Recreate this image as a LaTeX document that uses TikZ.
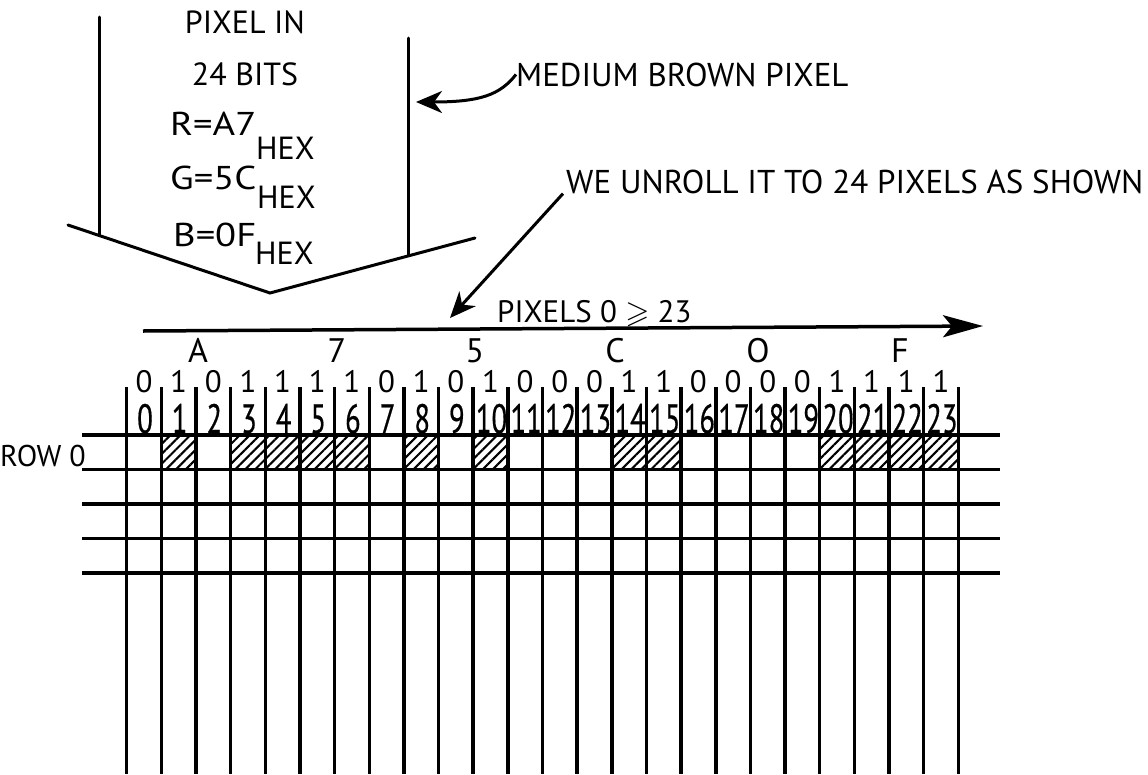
\documentclass[tikz,border=0pt]{standalone}
\usepackage{fontspec}
\usepackage{amssymb}
\usepackage{graphicx}
\setmainfont{PT Sans}
\newfontfamily\numfont{PT Sans}[FakeBold=0.6]
\usetikzlibrary{arrows.meta,patterns.meta}
\newcommand{\widen}[1]{\scalebox{1.17}[1]{#1}}
\begin{document}
\begin{tikzpicture}[x=1pt,y=-1pt,
  txt/.style={inner sep=0pt, font=\fontsize{#1}{#1}\selectfont},
  txt/.default=30,
  numtxt/.style={inner sep=0pt, font=\fontsize{41}{41}\numfont},
  outline/.style={line width=3pt, line cap=round},
  gridline/.style={line width=3.5pt},
  pointer/.style={line width=3pt, -{Stealth[length=26pt,width=22pt,inset=8pt]}},
  bigarrow/.style={line width=3.5pt, -{Stealth[length=40pt,width=22pt,inset=9pt]}},
  hatch/.style={pattern={Lines[angle=45,distance=7pt,line width=2.1pt]}},
]
\useasboundingbox (0,0) rectangle (1148,774);

% ---- upper part: the pixel ----
\coordinate (lt) at (99,17);   \coordinate (lb) at (99,235);
\coordinate (rt) at (408,38);  \coordinate (rb) at (408,255);
\coordinate (vl) at (68,225);  \coordinate (vm) at (270,293); \coordinate (vr) at (475,238);
\draw[outline] (lt) -- (lb);
\draw[outline] (rt) -- (rb);
\draw[outline] (vl) -- (vm) -- (vr);

\node[txt=32, anchor=base] (pin) at (245,33) {PIXEL IN};
\node[txt=32, anchor=base] (bits) at (245,85) {24 BITS};
\node[txt=33, anchor=base west] (rr) at (170,135) {\widen{R=A7}};
\node[txt=32, anchor=base west] (rhex) at (256,159) {HEX};
\node[txt=33, anchor=base west] (gg) at (170,189) {\widen{G=5C}};
\node[txt=32, anchor=base west] (ghex) at (257,208) {HEX};
\node[txt=33, anchor=base west] (bb) at (173,246) {\widen{B=0F}};
\node[txt=32, anchor=base west] (bhex) at (255,264) {HEX};

\node[txt=33, anchor=base west] (mbp) at (516,86) {MEDIUM BROWN PIXEL};
\coordinate (mbptip) at (416,102);
\draw[pointer] (mbp.west) .. controls (500,95) and (480,102) .. (mbptip);

\node[txt=33, anchor=base west] (we) at (566,193) {WE UNROLL IT TO 24 PIXELS AS SHOWN};
\coordinate (wetip) at (450,318);
\draw[pointer] ([xshift=-3pt]we.south west) -- (wetip);

% ---- pixels arrow ----
\node[txt=31, anchor=base west] (pix) at (497,322) {PIXELS 0 $\geqslant$ 23};
\coordinate (ps) at (143,331); \coordinate (pe) at (983,326);
\draw[bigarrow] (ps) -- (pe);

% ---- hex digits ----
\foreach \c/\x [count=\k] in {A/198,7/337,5/475,C/615,O/758,F/900}
  \node[txt=34, anchor=base] (hex\k) at (\x,362) {\c};

% ---- hatched cells in row 0 ----
\foreach \i in {1,3,4,5,6,8,10,14,15,20,21,22,23}
  \fill[hatch] ({126.7+34.65*\i},435) rectangle ++(34.65,34.5);

% ---- grid ----
\foreach \y [count=\r] in {435,469.5,504,538.5,573}
  \draw[gridline] (82,\y) -- (1000,\y);
\foreach \i in {0,...,24}
  \draw[gridline] ({126.7+34.65*\i},387) -- ({126.7+34.65*\i},774);

% ---- bit values ----
\foreach \b [count=\k from 0] in {0,1,0,1,1,1,1,0,1,0,1,0,0,0,1,1,0,0,0,0,1,1,1,1}
  \node[txt=31, anchor=base] (bit\k) at ({126.7+34.65*(\k+0.5)},392) {\b};

% ---- pixel numbers ----
\foreach \k in {0,...,23}
  \node[numtxt, anchor=base] (num\k) at ({126.7+34.65*(\k+0.5)+1},433) {\scalebox{0.7}[1]{\k}};

\node[txt=30, anchor=base west] (row) at (0,466) {ROW 0};
\end{tikzpicture}
\end{document}
